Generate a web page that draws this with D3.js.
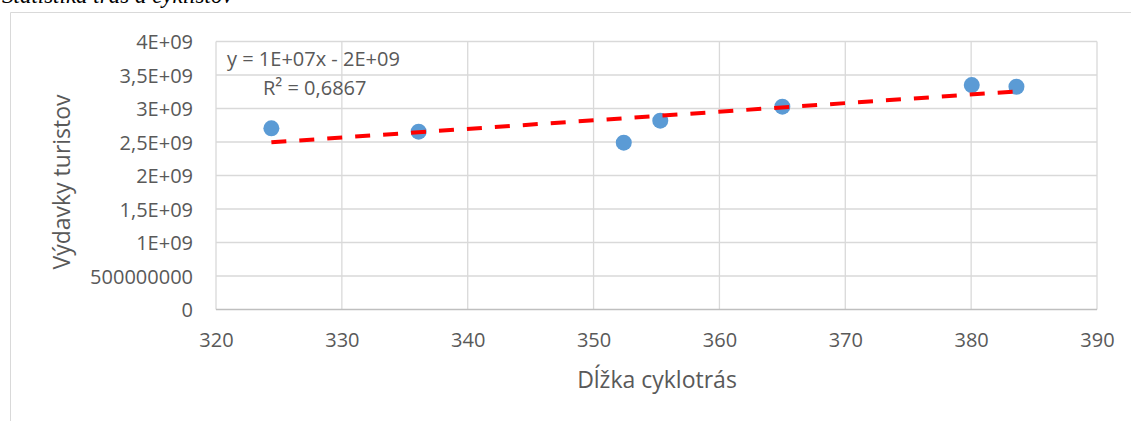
<!DOCTYPE html>
<html><head><meta charset="utf-8">
<script src="https://cdn.jsdelivr.net/npm/d3@7/dist/d3.min.js"></script>
<style>
html,body{margin:0;padding:0;background:#fff;}
svg{display:block;}
</style></head><body>
<svg id="c" width="1131" height="421"></svg>
<script>
// Data
const lengths  = [324.4, 336.1, 352.4, 355.3, 365.0, 380.05, 383.6];      // Dĺžka cyklotrás
const spending = [2.704e9, 2.654e9, 2.49e9, 2.818e9, 3.027e9, 3.35e9, 3.325e9]; // Výdavky turistov
const xTicks = [320, 330, 340, 350, 360, 370, 380, 390];
const yTicks = [0, 5e8, 1e9, 1.5e9, 2e9, 2.5e9, 3e9, 3.5e9, 4e9];
const yTickLabels = ["0", "500000000", "1E+09", "1,5E+09", "2E+09", "2,5E+09", "3E+09", "3,5E+09", "4E+09"];
const eqText = "y = 1E+07x - 2E+09";
const r2Text = "R² = 0,6867";
const xTitle = "Dĺžka cyklotrás";
const yTitle = "Výdavky turistov";
const captionText = "Štatistika trás a cyklistov";

const svg = d3.select("#c");
const font = "'Open Sans', 'Noto Sans', sans-serif";
const grey = "#595959";

// chart frame
svg.append("path").attr("d", "M10.5,421 V12.5 H1131").attr("fill", "none").attr("stroke", "#d9d9d9").attr("stroke-width", 1);

// cut-off caption above (only its lower edge is visible in the reference)
svg.append("text").attr("x", 2).attr("y", 3).attr("font-family", "'Liberation Serif', 'DejaVu Serif', serif")
  .style("font-style", "italic").attr("font-size", 23).attr("fill", "#000").text(captionText);

const x = d3.scaleLinear().domain([320, 390]).range([216, 1097]);
const y = d3.scaleLinear().domain([0, 4e9]).range([309.5, 41.5]);

// gridlines
svg.append("g").selectAll("line").data(xTicks).join("line")
  .attr("x1", d => x(d)).attr("x2", d => x(d)).attr("y1", y(4e9)).attr("y2", y(0))
  .attr("stroke", "#d9d9d9").attr("stroke-width", 1.3);
svg.append("g").selectAll("line").data(yTicks).join("line")
  .attr("x1", x(320)).attr("x2", x(390)).attr("y1", d => y(d)).attr("y2", d => y(d))
  .attr("stroke", d => d === 0 ? "#bfbfbf" : "#d9d9d9").attr("stroke-width", 1.3);

// y axis labels
const yAxis = d3.axisLeft(y).tickValues(yTicks).tickSize(0).tickPadding(0)
  .tickFormat((d, i) => yTickLabels[i]);
const gy = svg.append("g").attr("transform", "translate(193,0)").call(yAxis);
gy.select(".domain").remove();
gy.selectAll("text").attr("font-family", font).attr("font-size", 20).attr("fill", grey).attr("dy", "0.36em");

// x axis labels
const xAxis = d3.axisBottom(x).tickValues(xTicks).tickSize(0).tickPadding(0).tickFormat(d3.format("d"));
const gx = svg.append("g").attr("transform", "translate(0,347)").call(xAxis);
gx.select(".domain").remove();
gx.selectAll("text").attr("font-family", font).attr("font-size", 20).attr("fill", grey).attr("dy", "0em");

// axis titles
svg.append("text").attr("x", 657).attr("y", 388).attr("text-anchor", "middle")
  .attr("font-family", font).attr("font-size", 23).attr("fill", grey).text(xTitle);
svg.append("text").attr("transform", "translate(70,182) rotate(-90)").attr("text-anchor", "middle")
  .attr("font-family", font).attr("font-size", 23).attr("fill", grey).text(yTitle);

// points
const pts = lengths.map((v, i) => ({x: v, y: spending[i]}));
svg.append("g").selectAll("circle").data(pts).join("circle")
  .attr("cx", d => x(d.x)).attr("cy", d => y(d.y)).attr("r", 8).attr("fill", "#5b9bd5");

// linear trendline (least squares over the points)
const mx = d3.mean(lengths), my = d3.mean(spending);
const sxy = d3.sum(pts, d => (d.x - mx) * (d.y - my));
const sxx = d3.sum(pts, d => (d.x - mx) ** 2);
const slope = sxy / sxx, icpt = my - slope * mx;
const [x0, x1] = d3.extent(lengths);
svg.append("line")
  .attr("x1", x(x0)).attr("y1", y(icpt + slope * x0))
  .attr("x2", x(x1)).attr("y2", y(icpt + slope * x1))
  .attr("stroke", "#ff0000").attr("stroke-width", 4).attr("stroke-dasharray", "15,13");

// equation label
svg.append("text").attr("x", 227).attr("y", 66).attr("font-family", font).attr("font-size", 20)
  .attr("fill", grey).text(eqText);
svg.append("text").attr("x", 263).attr("y", 95).attr("font-family", font).attr("font-size", 20)
  .attr("fill", grey).text(r2Text);
</script>
</body></html>
